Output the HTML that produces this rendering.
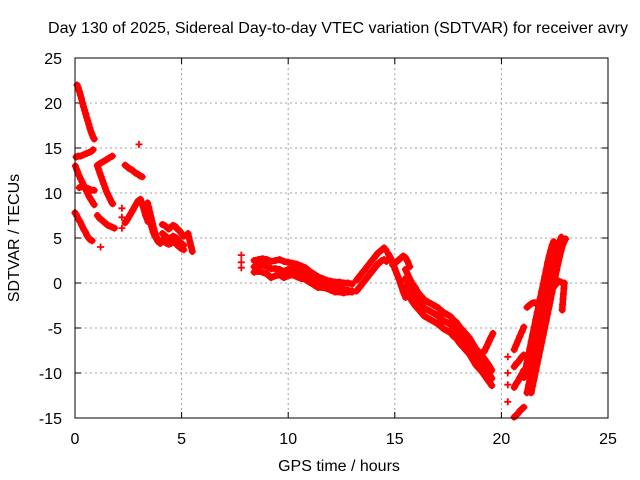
<!DOCTYPE html>
<html><head><meta charset="utf-8"><style>
body{margin:0;background:#fff;}
svg{display:block;font-family:"Liberation Sans",sans-serif;}
</style></head><body>
<svg id="chart" width="640" height="480" viewBox="0 0 640 480">
<rect width="640" height="480" fill="#fff"/>
<text x="338" y="33" font-size="16" text-anchor="middle" textLength="580" lengthAdjust="spacingAndGlyphs">Day 130 of 2025, Sidereal Day-to-day VTEC variation (SDTVAR) for receiver avry</text>
<g id="grid"></g>
<g id="ticks"></g>
<g id="marks"></g>
<rect x="75" y="58" width="533" height="360" fill="none" stroke="#000" stroke-width="1"/>
<text x="339" y="471" font-size="16" text-anchor="middle">GPS time / hours</text>
<text x="19" y="238" font-size="16" text-anchor="middle" transform="rotate(-90 19 238)">SDTVAR / TECUs</text>
</svg>
<script>
const xTicks=[0,5,10,15,20,25];
const yTicks=[-15,-10,-5,0,5,10,15,20,25];
// tracks: [startHour, stepHour, values]
const trackA=[0.1,0.05,[22,21.7,21.3,20.9,20.5,20,19.6,19.2,18.8,18.4,18,17.6,17.2,16.8,16.5,16.2,16]];
const trackB=[0.05,0.1,[14,14.1,14.1,14.2,14.3,14.4,14.5,14.6,14.8]];
const trackC=[0.02,0.08,[13,12.5,12,11.6,11.2,10.8,10.4,10,9.6,9.3,9,8.7]];
const trackC2=[0.2,0.1,[10.6,10.7,10.7,10.6,10.5,10.4,10.3,10.3]];
const trackD=[0,0.08,[7.8,7.5,7.1,6.8,6.4,6.0,5.7,5.3,5.0,4.8,4.7]];
const trackE=[1.05,0.06,[13,12.6,12.2,11.8,11.4,11,10.6,10.2,9.9,9.6,9.3,9.0,8.8]];
const trackE2=[1.05,0.14,[13.1,13.3,13.5,13.7,13.9,14.1]];
const trackF=[1.05,0.1,[7.5,7.2,7.0,6.8,6.6,6.4,6.3,6.2,6.1]];
const trackG=[2.35,0.1,[13.1,12.9,12.7,12.6,12.4,12.2,12.1,11.9,11.8]];
const trackH=[2.35,0.12,[6.7,7.1,7.6,8.1,8.6,9.1,9.3,8.5,7.5,6.8]];
const trackI=[3.4,0.06,[8.9,8.4,7.8,7.2,6.6,6,5.5,5.1,4.8,4.6,4.4]];
const trackI2=[3.45,0.07,[8,7,6.3,5.7,5.3,5,4.7,4.5]];
const blob1=[4.1,0.1,[6.5,6.4,6.2,6.0,6.2,6.4,6.3,6.0,5.8,5.5,5.2]];
const blob2=[4.1,0.1,[5.5,5.3,5.1,5.0,5.0,5.2,5.1,4.9,4.6,4.4,4.2]];
const blob3=[4.1,0.1,[4.8,4.6,4.4,4.3,4.4,4.5,4.5,4.2,4.0,3.8,3.7]];
const trackJ=[5.3,0.05,[5.5,5,4.5,4,3.5]];
const midUpper=[8.4,0.2,[2.5,2.6,2.7,2.6,2.4,2.5,2.6,2.4,2.3,2.2,2.1,1.9,1.7,1.3,1.0,0.7,0.5,0.3,0.2,0.1,0.1,0.0,0.0,-0.1]];
const midMid=[8.4,0.2,[1.8,1.9,2.0,1.8,1.6,1.6,1.5,1.3,1.5,1.6,1.4,1.2,1.0,0.8,0.5,0.2,0.0,-0.2,-0.4,-0.5,-0.6,-0.7,-0.8,-0.9]];
const midLower=[8.4,0.2,[1.2,1.3,1.2,1.0,0.6,0.8,0.9,0.6,0.8,0.9,0.7,0.5,0.4,0.1,-0.2,-0.5,-0.5,-0.6,-0.8,-1.0,-1.0,-1.1,-1.0,-1.0]];
const riseUpper=[13.2,0.1,[0.3,0.6,0.9,1.2,1.5,1.8,2.1,2.4,2.7,3.0,3.3,3.5,3.7,3.9,3.6]];
const riseLower=[13.2,0.1,[-0.9,-0.6,-0.3,0,0.3,0.6,0.9,1.2,1.5,1.8,2.1,2.3,2.5,2.6,2.4]];
const dropA=[14.7,0.1,[3.2,2.8,2.2,1.6,1.0,0.4,-0.3,-1.0,-1.6]];
const dropB=[14.9,0.1,[2.0,2.2,2.4,2.6,2.8,3.0,2.8,2.4,1.8]];
const plungeMid=[15.5,0.15,[0.5,-0.3,-1,-1.5,-2,-2.4,-2.8,-3,-3.2,-3.4,-3.6,-3.9,-4.2,-4.4,-4.6,-5.0,-5.3,-5.8,-6.2,-6.6,-7.0,-7.6,-8.2,-8.6,-9.0,-9.5,-10.0,-10.6]];
const plungeUp=[15.5,0.15,[1.5,0.7,0,-0.5,-1.1,-1.5,-1.9,-2.1,-2.3,-2.5,-2.7,-3.0,-3.3,-3.5,-3.7,-4.1,-4.4,-4.9,-5.3,-5.7,-6.1,-6.7,-7.3,-7.7,-8.1,-8.6,-9.1,-9.7]];
const plungeLow=[15.5,0.15,[-0.5,-1.3,-2,-2.5,-2.9,-3.3,-3.7,-3.9,-4.1,-4.3,-4.5,-4.8,-5.1,-5.3,-5.5,-5.9,-6.2,-6.7,-7.1,-7.5,-7.9,-8.5,-9.1,-9.5,-9.9,-10.4,-10.9,-11.4]];
const branchK=[18.8,0.1,[-7.6,-7.8,-7.8,-7.7,-7.6,-7.1,-6.6,-6.1,-5.6]];
const crossL=[20.3,0,[-8.2,-10,-11.3,-13.2]];
const shortM1=[20.6,0.09,[-7.4,-6.9,-6.4,-5.9,-5.4,-4.9]];
const shortM2=[20.6,0.09,[-9.3,-9.0,-8.8,-8.5,-8.2,-8.0]];
const shortM3=[20.6,0.09,[-11.6,-11.2,-10.9,-10.5,-10.1,-9.7]];
const shortM4=[20.6,0.09,[-14.9,-14.7,-14.5,-14.2,-14.0,-13.8]];
const bigA=[21.2,0.07,[-12.2,-11.4,-10.6,-9.8,-9.0,-8.2,-7.4,-6.6,-5.8,-5.0,-4.2,-3.4,-2.6,-1.8,-1.0,-0.2,0.6,1.4,2.2,2.9,3.6,4.2,4.7,5.1]];
const bigB=[21.4,0.07,[-12.2,-11.4,-10.6,-9.8,-9.0,-8.2,-7.4,-6.6,-5.8,-5.0,-4.2,-3.4,-2.6,-1.8,-1.0,-0.2,0.6,1.4,2.2,2.9,3.6,4.2,4.6,4.9]];
const bigC=[21.05,0.07,[-10.5,-9.7,-8.9,-8.1,-7.3,-6.5,-5.7,-4.9,-4.1,-3.3,-2.5,-1.7,-0.9,-0.1,0.7,1.5,2.3,3.0,3.6,4.2,4.6]];
const branchN=[21.2,0.1,[-2.7,-2.5,-2.3,-2.2,-2.2,-2.4,-2.6,-2.7,-2.5,-2.0,-1.5,-1.0,-0.6,-0.3,0,0.2,0.1]];
const edgeO=[22.85,0.02,[-3,-2.4,-1.8,-1.2,-0.6,0]];
const singles=[[1.2,4],[3.0,15.4],[2.2,8.3],[2.2,7.3],[2.2,6.1],[7.8,3.1],[7.8,2.3],[7.8,1.7]];
const tracks=[trackA,trackB,trackC,trackC2,trackD,trackE,trackE2,trackF,trackG,trackH,trackI,trackI2,blob1,blob2,blob3,trackJ,midUpper,midMid,midLower,riseUpper,riseLower,dropA,dropB,plungeMid,plungeUp,plungeLow,branchK,crossL,shortM1,shortM2,shortM3,shortM4,bigA,bigB,bigC,branchN,edgeO];

const NS='http://www.w3.org/2000/svg';
const X=h=>75+h*(533/25);
const Y=v=>418-(v+15)*(360/40);
const grid=document.getElementById('grid'),ticks=document.getElementById('ticks'),marks=document.getElementById('marks');
function mk(tag,attrs,parent){const e=document.createElementNS(NS,tag);for(const k in attrs)e.setAttribute(k,attrs[k]);parent.appendChild(e);return e;}
xTicks.forEach(t=>{
  const x=X(t);
  if(t>0&&t<25){const g=mk('line',{x1:x,x2:x,y1:58,y2:418,stroke:'#a0a0a0','stroke-dasharray':'2,3'},grid);
  
  }
  mk('line',{x1:x,x2:x,y1:418,y2:412,stroke:'#000'},ticks);
  mk('line',{x1:x,x2:x,y1:58,y2:64,stroke:'#000'},ticks);
  const l=mk('text',{x:x,y:444,'font-size':16,'text-anchor':'middle'},ticks);l.textContent=t;
  
  
});
yTicks.forEach(t=>{
  const y=Y(t);
  if(t>-15&&t<25){const g=mk('line',{x1:75,x2:608,y1:y,y2:y,stroke:'#a0a0a0','stroke-dasharray':'2,3'},grid);
  
  }
  mk('line',{x1:75,x2:81,y1:y,y2:y,stroke:'#000'},ticks);
  mk('line',{x1:608,x2:602,y1:y,y2:y,stroke:'#000'},ticks);
  const l=mk('text',{x:62,y:y+6,'font-size':16,'text-anchor':'end'},ticks);l.textContent=t;
  
  
});
let d='',ld='';
function plus(h,v){const x=X(h),y=Y(v);d+=`M${(x-3.5).toFixed(1)},${y.toFixed(1)}h7M${x.toFixed(1)},${(y-3.5).toFixed(1)}v7`;}
tracks.forEach(tr=>{const [h0,dh,vals]=tr;
  if(dh>0)vals.forEach((v,i)=>{ld+=(i?'L':'M')+X(h0+dh*i).toFixed(1)+','+Y(v).toFixed(1);});
  vals.forEach((v,i)=>plus(h0+dh*i,v));});
singles.forEach(p=>plus(p[0],p[1]));
const band=mk('path',{d:ld,stroke:'#ff0000','stroke-width':6.5,fill:'none','stroke-linejoin':'round','stroke-linecap':'round'},marks);


const path=mk('path',{d:d,stroke:'#ff0000','stroke-width':1.8,fill:'none'},marks);


</script>
</body></html>
